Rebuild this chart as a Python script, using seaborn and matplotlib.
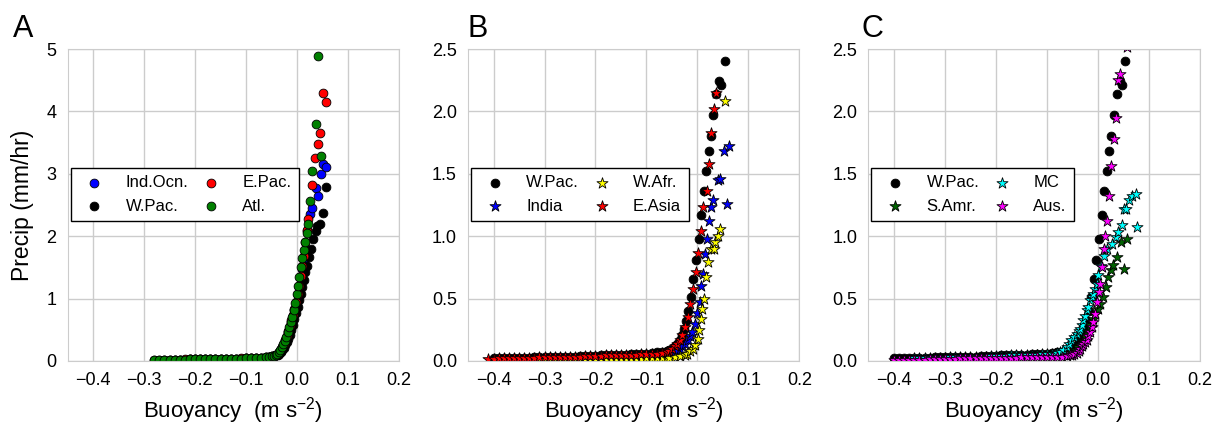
import matplotlib
matplotlib.use("Agg")
import matplotlib.pyplot as plt
import seaborn as sns
import pandas as pd

# ---------------- Panel A data ----------------
FLAT_A = [-0.28, -0.27, -0.26, -0.25, -0.24, -0.23, -0.22, -0.21, -0.20, -0.19,
          -0.18, -0.17, -0.16, -0.15, -0.14, -0.13, -0.12, -0.11, -0.10, -0.09,
          -0.08, -0.07, -0.06]

ind_b = FLAT_A[2:] + [-0.055, -0.05, -0.046, -0.042, -0.038, -0.035, -0.032, -0.029, -0.026, -0.023,
                      -0.020, -0.017, -0.014, -0.011, -0.008, -0.005, -0.002, 0.001, 0.004, 0.007,
                      0.010, 0.013, 0.016, 0.020, 0.025, 0.030, 0.037, 0.041, 0.047, 0.051, 0.057]
ind_p = [0.02, 0.02, 0.02, 0.02, 0.02, 0.025, 0.025, 0.025, 0.025, 0.03,
         0.03, 0.03, 0.03, 0.035, 0.035, 0.035, 0.04, 0.04, 0.045, 0.05, 0.06] + \
        [0.065, 0.075, 0.085, 0.10, 0.12, 0.15, 0.18, 0.22, 0.27, 0.33,
         0.39, 0.46, 0.54, 0.63, 0.72, 0.82, 0.93, 1.05, 1.18, 1.32,
         1.47, 1.62, 1.78, 2.08, 2.35, 2.45, 2.77, 2.64, 3.00, 3.16, 3.11]

wpa_b = FLAT_A[4:] + [-0.055, -0.05, -0.046, -0.042, -0.038, -0.035, -0.032, -0.029, -0.026, -0.023,
                      -0.020, -0.017, -0.014, -0.011, -0.008, -0.005, -0.002, 0.001, 0.004, 0.007,
                      0.010, 0.013, 0.016, 0.019, 0.023, 0.027, 0.032, 0.037, 0.039, 0.045, 0.051, 0.057]
wpa_p = [0.02, 0.02, 0.02, 0.025, 0.025, 0.025, 0.025, 0.03, 0.03, 0.03,
         0.03, 0.035, 0.035, 0.035, 0.04, 0.04, 0.045, 0.05, 0.055] + \
        [0.06, 0.07, 0.08, 0.09, 0.10, 0.12, 0.14, 0.17, 0.21, 0.25,
         0.30, 0.36, 0.42, 0.49, 0.58, 0.67, 0.77, 0.87, 0.98, 1.08,
         1.18, 1.30, 1.42, 1.52, 1.66, 1.80, 1.96, 2.08, 2.16, 2.19, 2.37, 2.79]

epac_b = FLAT_A + [-0.055, -0.05, -0.046, -0.042, -0.038, -0.035, -0.032, -0.029, -0.026, -0.023,
                   -0.020, -0.017, -0.014, -0.011, -0.008, -0.005, -0.002, 0.001, 0.004, 0.007,
                   0.010, 0.013, 0.016, 0.019, 0.022, 0.030, 0.035, 0.041, 0.045, 0.051, 0.057]
epac_p = [0.02, 0.02, 0.02, 0.02, 0.02, 0.02, 0.025, 0.025, 0.025, 0.025,
          0.03, 0.03, 0.03, 0.03, 0.035, 0.035, 0.035, 0.04, 0.04, 0.045,
          0.05, 0.055, 0.06] + \
         [0.065, 0.075, 0.085, 0.10, 0.12, 0.15, 0.19, 0.23, 0.28, 0.34,
          0.40, 0.48, 0.56, 0.65, 0.74, 0.84, 0.95, 1.07, 1.20, 1.36,
          1.52, 1.68, 1.90, 2.10, 2.27, 2.82, 3.25, 3.48, 3.65, 4.30, 4.15]

atl_b = FLAT_A + [-0.055, -0.05, -0.046, -0.042, -0.039, -0.036, -0.033, -0.030, -0.027, -0.024,
                  -0.021, -0.018, -0.015, -0.012, -0.009, -0.006, -0.003, 0.000, 0.002, 0.004,
                  0.007, 0.010, 0.013, 0.016, 0.019, 0.021, 0.025, 0.030, 0.037, 0.047, 0.041]
atl_p = [0.02, 0.02, 0.02, 0.02, 0.02, 0.02, 0.02, 0.025, 0.025, 0.025,
         0.025, 0.03, 0.03, 0.03, 0.03, 0.035, 0.035, 0.035, 0.04, 0.04,
         0.045, 0.05, 0.06] + \
        [0.065, 0.075, 0.085, 0.10, 0.11, 0.14, 0.17, 0.22, 0.27, 0.32,
         0.39, 0.46, 0.54, 0.62, 0.71, 0.81, 0.93, 1.07, 1.20, 1.35,
         1.50, 1.65, 1.78, 1.90, 2.05, 2.20, 2.56, 3.04, 3.80, 3.29, 4.89]

# ---------------- Panels B and C data ----------------
FLAT_BC = [-0.41, -0.40, -0.39, -0.38, -0.37, -0.36, -0.35, -0.34, -0.33, -0.32,
           -0.31, -0.30, -0.29, -0.28, -0.27, -0.26, -0.25, -0.24, -0.23, -0.22,
           -0.21, -0.20, -0.19, -0.18, -0.17, -0.16, -0.15, -0.14, -0.13, -0.12,
           -0.11, -0.10, -0.09, -0.08, -0.07, -0.06]

wp_b = FLAT_BC[1:] + [-0.055, -0.05, -0.045, -0.04, -0.035, -0.03, -0.026, -0.022, -0.018, -0.013,
                      -0.008, -0.003, 0.002, 0.007, 0.012, 0.017, 0.022, 0.026, 0.031, 0.037,
                      0.043, 0.047, 0.053]
wp_p = [0.02, 0.02, 0.02, 0.02, 0.025, 0.025, 0.025, 0.025, 0.03, 0.03,
        0.03, 0.03, 0.03, 0.035, 0.035, 0.035, 0.035, 0.04, 0.04, 0.04,
        0.04, 0.045, 0.045, 0.045, 0.05, 0.05, 0.05, 0.055, 0.055, 0.06,
        0.06, 0.065, 0.07, 0.075, 0.08] + \
       [0.09, 0.10, 0.12, 0.14, 0.17, 0.21, 0.26, 0.32, 0.40, 0.515,
        0.66, 0.81, 0.98, 1.17, 1.36, 1.52, 1.68, 1.80, 1.97, 2.14,
        2.24, 2.21, 2.40]

india_b = FLAT_BC[5:] + [-0.055, -0.05, -0.045, -0.04, -0.035, -0.03, -0.025, -0.019, -0.015, -0.01,
                         -0.005, 0.0, 0.004, 0.007, 0.010, 0.014, 0.018, 0.022, 0.027, 0.031,
                         0.040, 0.044, 0.057, 0.052, 0.061]
india_p = [0.01, 0.01, 0.01, 0.015, 0.015, 0.015, 0.015, 0.02, 0.02, 0.02,
           0.02, 0.02, 0.025, 0.025, 0.025, 0.025, 0.03, 0.03, 0.03, 0.03,
           0.03, 0.035, 0.035, 0.035, 0.035, 0.04, 0.04, 0.04, 0.045, 0.045,
           0.05] + \
          [0.055, 0.06, 0.07, 0.08, 0.10, 0.12, 0.14, 0.168, 0.20, 0.235,
           0.30, 0.387, 0.475, 0.60, 0.70, 0.86, 0.977, 1.12, 1.236, 1.29,
           1.45, 1.456, 1.255, 1.68, 1.72]

wafr_b = FLAT_BC[10:] + [-0.055, -0.045, -0.035, -0.025, -0.02, -0.014, -0.009, -0.004, 0.001, 0.003,
                         0.006, 0.009, 0.012, 0.016, 0.021, 0.027, 0.032, 0.035, 0.040, 0.045,
                         0.053]
wafr_p = [0.005, 0.005, 0.005, 0.005, 0.005, 0.01, 0.01, 0.01, 0.01, 0.01,
          0.01, 0.01, 0.01, 0.01, 0.015, 0.015, 0.015, 0.015, 0.015, 0.015,
          0.015, 0.02, 0.02, 0.02, 0.02, 0.02] + \
         [0.025, 0.03, 0.04, 0.05, 0.06, 0.08, 0.10, 0.128, 0.18, 0.25,
          0.336, 0.42, 0.50, 0.67, 0.79, 0.895, 0.90, 0.95, 1.00, 1.06,
          2.085]

easia_b = FLAT_BC + [-0.055, -0.05, -0.045, -0.041, -0.035, -0.030, -0.025, -0.019, -0.014, -0.008,
                     -0.003, 0.001, 0.006, 0.011, 0.018, 0.022, 0.027, 0.032, 0.037]
easia_p = [0.015, 0.015, 0.02, 0.02, 0.02, 0.02, 0.025, 0.025, 0.025, 0.025,
           0.03, 0.03, 0.03, 0.03, 0.03, 0.035, 0.035, 0.035, 0.035, 0.04,
           0.04, 0.04, 0.04, 0.045, 0.045, 0.045, 0.05, 0.05, 0.05, 0.05,
           0.055, 0.055, 0.06, 0.06, 0.065, 0.07] + \
          [0.08, 0.10, 0.12, 0.14, 0.17, 0.21, 0.27, 0.35, 0.457, 0.575,
           0.716, 0.865, 1.04, 1.23, 1.36, 1.58, 1.83, 2.02, 2.15]

samr_b = FLAT_BC[11:] + [-0.055, -0.05, -0.045, -0.04, -0.035, -0.03, -0.025, -0.02, -0.015, -0.01,
                         -0.005, 0.0, 0.004, 0.01, 0.016, 0.02, 0.025, 0.03, 0.037, 0.045,
                         0.052, 0.056]
samr_p = [0.02, 0.02, 0.02, 0.02, 0.025, 0.025, 0.025, 0.025, 0.03, 0.03,
          0.03, 0.03, 0.035, 0.035, 0.035, 0.04, 0.04, 0.04, 0.045, 0.045,
          0.05, 0.05, 0.055, 0.06, 0.06] + \
         [0.065, 0.075, 0.09, 0.11, 0.13, 0.16, 0.20, 0.24, 0.29, 0.34,
          0.38, 0.42, 0.46, 0.515, 0.595, 0.67, 0.73, 0.77, 0.836, 0.956,
          0.74, 0.98]

mc_b = FLAT_BC[5:33] + [-0.085, -0.08, -0.075, -0.068, -0.061, -0.056, -0.052, -0.047, -0.042, -0.038,
                        -0.035, -0.032, -0.029, -0.025, -0.022, -0.019, -0.016, -0.012, -0.009, -0.005,
                        -0.002, 0.001, 0.006, 0.012, 0.018, 0.027, 0.035, 0.040, 0.047, 0.051,
                        0.055, 0.060, 0.066, 0.075, 0.076]
mc_p = [0.02, 0.02, 0.02, 0.025, 0.025, 0.025, 0.025, 0.03, 0.03, 0.03,
        0.03, 0.035, 0.035, 0.035, 0.035, 0.04, 0.04, 0.04, 0.04, 0.045,
        0.045, 0.045, 0.05, 0.05, 0.05, 0.055, 0.055, 0.06] + \
       [0.06, 0.065, 0.075, 0.09, 0.115, 0.14, 0.17, 0.19, 0.22, 0.24,
        0.26, 0.29, 0.33, 0.36, 0.41, 0.43, 0.49, 0.51, 0.54, 0.58,
        0.62, 0.69, 0.76, 0.84, 0.895, 0.94, 0.996, 1.036, 1.09, 1.215,
        1.22, 1.29, 1.32, 1.34, 1.07]

aus_b = FLAT_BC[1:] + [-0.055, -0.05, -0.046, -0.042, -0.038, -0.035, -0.032, -0.029, -0.025, -0.022,
                       -0.019, -0.016, -0.012, -0.009, -0.005, -0.001, 0.002, 0.004, 0.008, 0.012,
                       0.014, 0.017, 0.021, 0.025, 0.031, 0.035, 0.040, 0.044, 0.056]
aus_p = [0.01, 0.01, 0.01, 0.01, 0.01, 0.01, 0.01, 0.015, 0.015, 0.015,
         0.015, 0.015, 0.015, 0.02, 0.02, 0.02, 0.02, 0.02, 0.02, 0.02,
         0.025, 0.025, 0.025, 0.025, 0.025, 0.03, 0.03, 0.03, 0.03, 0.03,
         0.035, 0.035, 0.035, 0.035, 0.04] + \
        [0.045, 0.05, 0.055, 0.065, 0.08, 0.10, 0.12, 0.14, 0.155, 0.168,
         0.20, 0.235, 0.27, 0.315, 0.38, 0.475, 0.55, 0.62, 0.75, 0.895,
         1.00, 1.125, 1.325, 1.56, 1.78, 1.95, 2.25, 2.30, 2.52]

X_TICKS = [-0.4, -0.3, -0.2, -0.1, 0.0, 0.1, 0.2]
Y_TICKS_A = [0, 1, 2, 3, 4, 5]
Y_TICKS_BC = [0.0, 0.5, 1.0, 1.5, 2.0, 2.5]

# ---------------- style ----------------
sns.set_style("whitegrid")
plt.rcParams["font.family"] = ["Liberation Sans", "DejaVu Sans"]
plt.rcParams["mathtext.fontset"] = "custom"
plt.rcParams["mathtext.rm"] = "Liberation Sans"
plt.rcParams["mathtext.it"] = "Liberation Sans:italic"
plt.rcParams["text.color"] = "black"
plt.rcParams["axes.labelcolor"] = "black"
plt.rcParams["xtick.color"] = "black"
plt.rcParams["ytick.color"] = "black"

fig = plt.figure(figsize=(12.15, 4.24), dpi=100)
lefts = [0.0556, 0.3852, 0.7148]
axs = [fig.add_axes([l, 0.1486, 0.2728, 0.7358]) for l in lefts]

CIRC = 40
STAR = 70

panels = [
    [("Ind.Ocn.", ind_b, ind_p, "#0000ff", "o", CIRC),
     ("W.Pac.", wpa_b, wpa_p, "black", "o", CIRC),
     ("E.Pac.", epac_b, epac_p, "#ff0000", "o", CIRC),
     ("Atl.", atl_b, atl_p, "#008000", "o", CIRC)],
    [("W.Pac.", wp_b, wp_p, "black", "o", CIRC),
     ("India", india_b, india_p, "#0000ff", "*", STAR),
     ("W.Afr.", wafr_b, wafr_p, "#ffff00", "*", STAR),
     ("E.Asia", easia_b, easia_p, "#ff0000", "*", STAR)],
    [("W.Pac.", wp_b, wp_p, "black", "o", CIRC),
     ("S.Amr.", samr_b, samr_p, "#006400", "*", STAR),
     ("MC", mc_b, mc_p, "#00ffff", "*", STAR),
     ("Aus.", aus_b, aus_p, "#ff00ff", "*", STAR)],
]
ylims = [(0, 5), (0, 2.5), (0, 2.5)]
yticks = [Y_TICKS_A, Y_TICKS_BC, Y_TICKS_BC]
letters = ["A", "B", "C"]
letter_x = [0.011, 0.385, 0.709]

for i, ax in enumerate(axs):
    for lab, b, p, col, mk, sz in panels[i]:
        df = pd.DataFrame({"b": b, "p": p})
        sns.scatterplot(data=df, x="b", y="p", ax=ax, marker=mk, color=col, s=sz,
                        edgecolor="black", linewidth=0.6, label=lab, legend=False)
    ax.set_xlim(-0.45, 0.2)
    ax.set_ylim(*ylims[i])
    ax.set_xticks(X_TICKS)
    ax.set_yticks(yticks[i])
    if i == 0:
        ax.set_yticklabels([str(v) for v in Y_TICKS_A])
        ax.set_ylabel("Precip (mm/hr)", fontsize=16.5, labelpad=9)
    else:
        ax.set_yticklabels(["%.1f" % v for v in Y_TICKS_BC])
        ax.set_ylabel("")
    ax.set_xticklabels([("\u2212%.1f" % abs(v)) if v < 0 else "%.1f" % v for v in X_TICKS])
    ax.set_xlabel("Buoyancy  (m s$^{\u22122}$)", fontsize=16, labelpad=4)
    ax.tick_params(axis="both", labelsize=13, pad=8, length=0)
    for sp in ax.spines.values():
        sp.set_color("#cccccc")
    ax.grid(True, color="#cccccc", linewidth=1)
    leg = ax.legend(loc="center left", bbox_to_anchor=(0.009, 0.534), ncol=2,
                    frameon=True, fancybox=False, framealpha=1, edgecolor="black",
                    borderaxespad=0, fontsize=12, handletextpad=0.9, columnspacing=0.4,
                    labelspacing=0.5, borderpad=0.45, scatterpoints=1, handlelength=1.95)
    leg.get_frame().set_linewidth(1.0)
    fig.text(letter_x[i], 0.913, letters[i], fontsize=22, va="baseline", ha="left")

fig.savefig("out.png", dpi=100)
